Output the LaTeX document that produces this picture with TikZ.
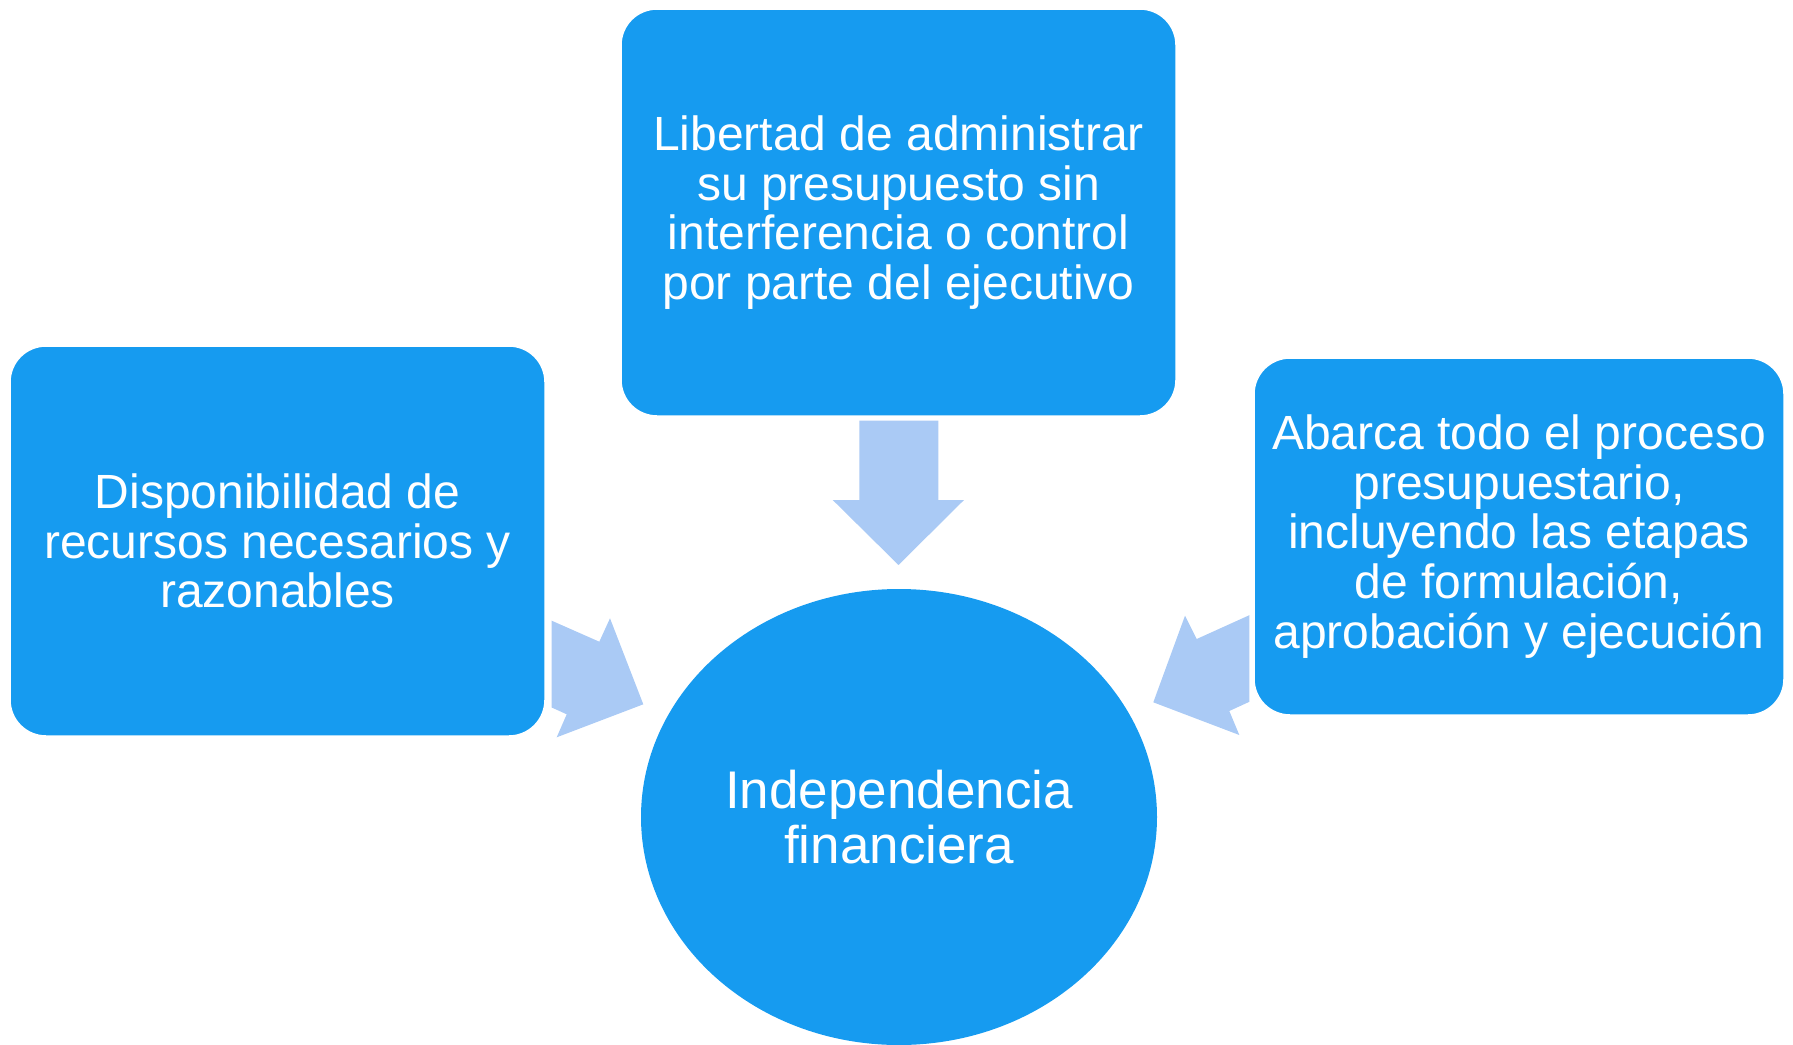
\documentclass[tikz,border=0pt]{standalone}
\usepackage{fontspec}
\setmainfont{Liberation Sans}
\usetikzlibrary{shapes.geometric}
\definecolor{boxblue}{RGB}{22,155,240}
\definecolor{arrowblue}{RGB}{170,202,245}
\begin{document}
\begin{tikzpicture}[x=1pt,y=-1pt,
  box/.style={draw=white, line width=1.5pt, fill=boxblue, rounded corners=36pt,
    text=white, align=center, inner sep=0pt,
    font=\fontsize{48}{49.6}\selectfont},
  hub/.style={ellipse, fill=boxblue, draw=none, text=white, align=center,
    inner sep=0pt, minimum width=516pt, minimum height=456pt,
    font=\fontsize{53}{55}\selectfont},
  blockarrow/.style={fill=arrowblue, draw=none}]
\useasboundingbox (0,0) rectangle (1793,1044);
% block arrows (drawn behind the boxes)
\fill[blockarrow] (859.3,420.7) -- (938.3,420.7) -- (938.3,500) -- (964,500)
  -- (898.5,565) -- (832.7,500) -- (859.3,500) -- cycle;
\fill[blockarrow] (551.7,620.7) -- (599.3,641.7) -- (610,618.3) -- (643.3,704.3)
  -- (556.7,737.3) -- (566.7,714.3) -- (551.7,707.5) -- cycle;
\fill[blockarrow] (1249.3,615.2) -- (1196.7,639) -- (1185,615.7) -- (1153.3,702.3)
  -- (1239.3,735) -- (1229.3,711) -- (1249.3,701.8) -- cycle;
% nodes
\node[box, minimum width=555pt, minimum height=407pt] (top) at (898.5,212.5)
  {Libertad de administrar\\su presupuesto sin\\interferencia o control\\por parte del ejecutivo};
\node[box, minimum width=535pt, minimum height=390pt] (left) at (277.5,541)
  {Disponibilidad de\\recursos necesarios y\\razonables};
\node[box, minimum width=530pt, minimum height=357pt] (right) at (1519,536.5)
  {Abarca todo el proceso\\presupuestario,\\incluyendo las etapas\\de formulación,\\aprobación y ejecución};
\node[hub] (center) at (899,817) {Independencia\\financiera};
\end{tikzpicture}
\end{document}
